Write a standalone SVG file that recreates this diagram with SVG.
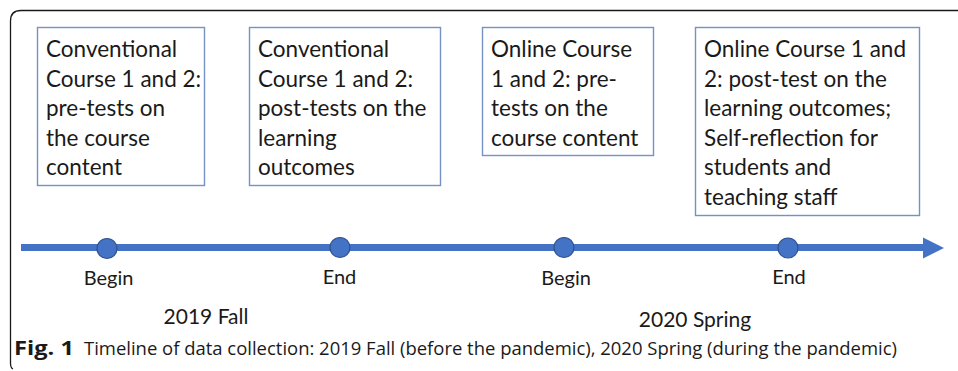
<svg xmlns="http://www.w3.org/2000/svg" width="958" height="371" viewBox="0 0 958 371">
<style>
.frame{fill:none;stroke:#1a1a1a;stroke-width:1.3}
.box{fill:#ffffff;stroke:#7591c6;stroke-width:1.4}
.bt{font-family:Lato,"Open Sans",sans-serif;font-size:22.5px;fill:#1a1a1a}
.lbl{font-family:Lato,"Open Sans",sans-serif;font-size:20px;fill:#1a1a1a;text-anchor:middle}
.sem{font-family:Lato,"Open Sans",sans-serif;font-size:21px;fill:#1a1a1a;text-anchor:middle}
.dot{fill:#4472c4;stroke:#2f528f;stroke-width:1.2}
.capb{font-family:"Open Sans","Liberation Sans",sans-serif;font-weight:bold;font-size:19px;fill:#1a1a1a}
.cap{font-family:"Open Sans","Liberation Sans",sans-serif;font-size:19px;fill:#1a1a1a}
</style>
<rect width="958" height="371" fill="#ffffff"/>
<path class="frame" d="M958 10.5 H21 Q10.5 10.5 10.5 21 V363 Q10.5 368 13 369"/>
<g id="box1"><rect class="box" x="37.5" y="27.5" width="167" height="158"/>
<text class="bt" x="46"><tspan x="46" y="57">Conventional</tspan><tspan x="46" y="86.5">Course 1 and 2:</tspan><tspan x="46" y="116">pre-tests on</tspan><tspan x="46" y="145.5">the course</tspan><tspan x="46" y="175">content</tspan></text></g>
<g id="box2"><rect class="box" x="249.5" y="27.5" width="191" height="158"/>
<text class="bt"><tspan x="258" y="57">Conventional</tspan><tspan x="258" y="86.5">Course 1 and 2:</tspan><tspan x="258" y="116">post-tests on the</tspan><tspan x="258" y="145.5">learning</tspan><tspan x="258" y="175">outcomes</tspan></text></g>
<g id="box3"><rect class="box" x="482.5" y="27.5" width="171" height="128"/>
<text class="bt"><tspan x="491" y="57">Online Course</tspan><tspan x="491" y="86.5">1 and 2: pre-</tspan><tspan x="491" y="116">tests on the</tspan><tspan x="491" y="145.5">course content</tspan></text></g>
<g id="box4"><rect class="box" x="695.5" y="27.5" width="224" height="188"/>
<text class="bt"><tspan x="704" y="57">Online Course 1 and</tspan><tspan x="704" y="86.5">2: post-test on the</tspan><tspan x="704" y="116">learning outcomes;</tspan><tspan x="704" y="145.5">Self-reflection for</tspan><tspan x="704" y="175">students and</tspan><tspan x="704" y="204.5">teaching staff</tspan></text></g>
<g id="connectors">
<line x1="21" y1="247.5" x2="924" y2="247.5" stroke="#4472c4" stroke-width="7"/>
<polygon points="923,237.5 944,248 923,258.5" fill="#4472c4"/>
</g>
<g id="t1"><circle class="dot" cx="107" cy="248.5" r="10"/><text class="lbl" x="108.5" y="285">Begin</text></g>
<g id="t2"><circle class="dot" cx="340" cy="247.5" r="10"/><text class="lbl" x="339.5" y="284">End</text></g>
<g id="t3"><circle class="dot" cx="564" cy="247.5" r="10"/><text class="lbl" x="566" y="285">Begin</text></g>
<g id="t4"><circle class="dot" cx="788" cy="248" r="10"/><text class="lbl" x="789" y="284">End</text></g>
<text class="sem" x="206" y="324">2019 Fall</text>
<text class="sem" x="695" y="327">2020 Spring</text>
<text class="capb" x="14" y="355" textLength="60" lengthAdjust="spacingAndGlyphs">Fig. 1</text>
<text class="cap" x="84" y="355" textLength="813" lengthAdjust="spacingAndGlyphs">Timeline of data collection: 2019 Fall (before the pandemic), 2020 Spring (during the pandemic)</text>
</svg>
